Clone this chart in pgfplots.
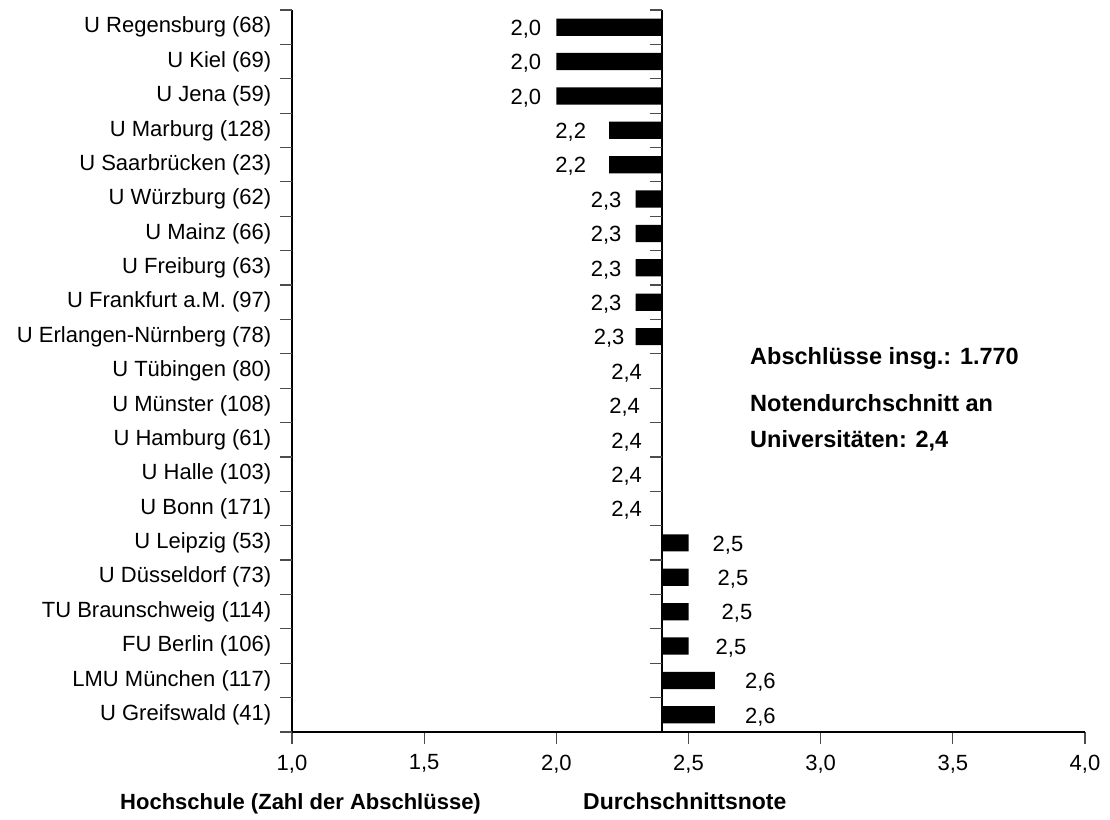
\documentclass[border=0pt]{standalone}
\usepackage{fontspec}
\setmainfont{Liberation Sans}
\usepackage{pgfplots}
\pgfplotsset{compat=1.18}
\usepackage{pgfplotstable}

\pgfplotstableread{
y v lab dx
21 2.0 2,0 -15
20 2.0 2,0 -15
19 2.0 2,0 -15
18 2.2 2,2 -23
17 2.2 2,2 -23
16 2.3 2,3 -14
15 2.3 2,3 -14
14 2.3 2,3 -14
13 2.3 2,3 -14
12 2.3 2,3 -11
11 2.4 2,4 -20
10 2.4 2,4 -22
9 2.4 2,4 -20
8 2.4 2,4 -20
7 2.4 2,4 -20
}\belowavg
\pgfplotstableread{
y v lab dx
6 2.5 2,5 24
5 2.5 2,5 29
4 2.5 2,5 33
3 2.5 2,5 27
2 2.6 2,6 30
1 2.6 2,6 30
}\aboveavg

\begin{document}
\fontsize{22bp}{26bp}\selectfont
\begin{tikzpicture}[x=1bp,y=1bp]
\useasboundingbox (0,0) rectangle (1110,820);
\begin{axis}[
  at={(292bp,88bp)}, anchor=south west,
  scale only axis, width=793bp, height=722bp,
  font=\fontsize{22bp}{26bp}\selectfont,
  xmin=-1.4, xmax=1.6, ymin=0.5, ymax=21.5,
  axis x line*=bottom, axis y line*=left,
  axis line style={-, line width=1.2bp, black},
  tick align=outside,
  major tick length=12.5bp,
  xtick style={draw=black!70, line width=1.2bp},
  ytick style={draw=none},
  xtick={-1.4,-0.9,-0.4,0.1,0.6,1.1,1.6},
  xticklabels={{1,0},{1,5},{2,0},{2,5},{3,0},{3,5},{4,0}},
  xticklabel style={inner sep=0pt, anchor=north, yshift=-10bp},
  ytick={1,2,...,21},
  yticklabels={U Greifswald (41),LMU München (117),FU Berlin (106),TU Braunschweig (114),U Düsseldorf (73),U Leipzig (53),U Bonn (171),U Halle (103),U Hamburg (61),U Münster (108),U Tübingen (80),U Erlangen-Nürnberg (78),U Frankfurt a.M. (97),U Freiburg (63),U Mainz (66),U Würzburg (62),U Saarbrücken (23),U Marburg (128),U Jena (59),U Kiel (69),U Regensburg (68)},
  yticklabel style={anchor=east, inner sep=0pt, xshift=-8bp},
  xlabel={\bfseries\fontsize{23bp}{26bp}\selectfont Durchschnittsnote},
  ylabel={\bfseries Hochschule (Zahl der Abschlüsse)},
  every axis x label/.style={at={(axis description cs:0,0)}, anchor=base west, inner sep=0pt, xshift=291bp, yshift=-78bp},
  every axis y label/.style={at={(axis description cs:0,0)}, anchor=base west, inner sep=0pt, xshift=-172bp, yshift=-78bp},
  clip=false,
]
\addplot[xbar, bar width=0.5, fill=black, draw=none,
  nodes near coords, point meta=explicit symbolic,
  visualization depends on={\thisrow{dx} \as \dx},
  every node near coord/.append style={anchor=east, inner sep=0pt, xshift=\dx bp, yshift=-2bp, text=black}]
  table[x expr=\thisrow{v}-2.4, y=y, meta=lab]{\belowavg};
\addplot[xbar, bar width=0.5, fill=black, draw=none,
  nodes near coords, point meta=explicit symbolic,
  visualization depends on={\thisrow{dx} \as \dx},
  every node near coord/.append style={anchor=west, inner sep=0pt, xshift=\dx bp, yshift=-2bp, text=black}]
  table[x expr=\thisrow{v}-2.4, y=y, meta=lab]{\aboveavg};
\draw[line width=1.2bp, black] (axis cs:0,0.5) -- (axis cs:0,21.5);
\pgfplotsinvokeforeach{1.5,2.5,...,21.5}{
  \draw[line width=1.2bp, black!70] (axis cs:0,#1) -- ([xshift=-12bp]axis cs:0,#1);
}
\pgfplotsinvokeforeach{0.5,1.5,...,21.5}{
  \draw[line width=1.2bp, black!70] (axis cs:-1.4,#1) -- ([xshift=-12.5bp]axis cs:-1.4,#1);
}
\end{axis}
\begin{scope}[font=\bfseries\fontsize{23.5bp}{26bp}\selectfont]
\node[anchor=base west, inner sep=0pt] at (750,455) {Abschlüsse insg.: 1.770};
\node[anchor=base west, inner sep=0pt] at (750,408) {Notendurchschnitt an};
\node[anchor=base west, inner sep=0pt] at (750,372) {Universitäten: 2,4};
\end{scope}
\end{tikzpicture}
\end{document}
